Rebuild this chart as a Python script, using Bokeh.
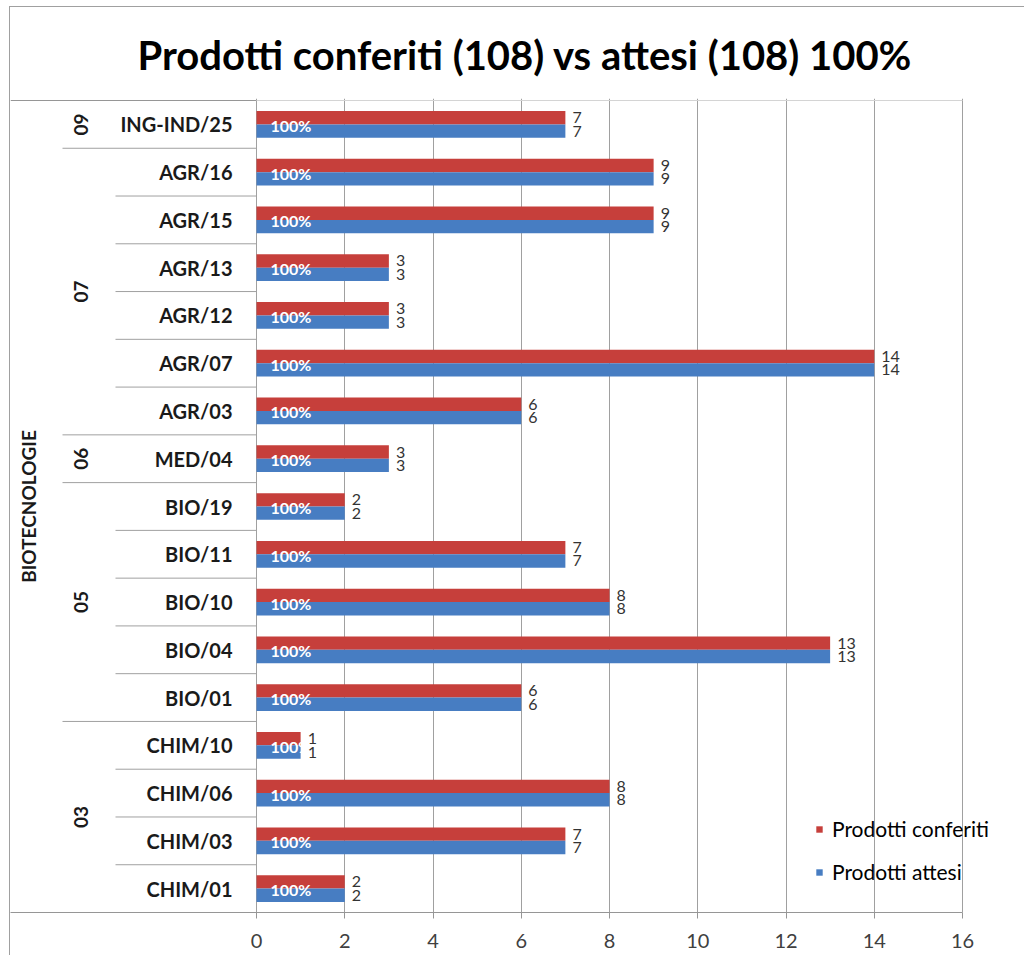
from bokeh.plotting import figure
from bokeh.models import ColumnDataSource, FixedTicker, Legend, LegendItem, Range1d
from bokeh.core.properties import value
from bokeh.embed import file_html
from bokeh.resources import INLINE
import math

# ---- data (bottom to top) ----
categories = ["CHIM/01", "CHIM/03", "CHIM/06", "CHIM/10", "BIO/01", "BIO/04", "BIO/10",
              "BIO/11", "BIO/19", "MED/04", "AGR/03", "AGR/07", "AGR/12", "AGR/13",
              "AGR/15", "AGR/16", "ING-IND/25"]
groups = ["03", "03", "03", "03", "05", "05", "05", "05", "05", "06",
          "07", "07", "07", "07", "07", "07", "09"]
area = "BIOTECNOLOGIE"
conferiti = [2, 7, 8, 1, 6, 13, 8, 7, 2, 3, 6, 14, 3, 3, 9, 9, 7]
attesi = [2, 7, 8, 1, 6, 13, 8, 7, 2, 3, 6, 14, 3, 3, 9, 9, 7]
x_ticks = [0, 2, 4, 6, 8, 10, 12, 14, 16]
series_names = ["Prodotti conferiti", "Prodotti attesi"]

RED = "#C63F3B"
BLUE = "#477DC2"
FONT = "Lato"
LINE = "#969696"

tot_c, tot_a = sum(conferiti), sum(attesi)
title_text = f"Prodotti conferiti ({tot_c}) vs attesi ({tot_a}) {round(100 * tot_c / tot_a)}%"

# ---- layout (page pixels) ----
OX, OY = 10, 7                      # position of the chart box on the page
W, H = 1024 - OX, 955 - OY
pl, pr, pt, pb = 10, 1024, 98, 912  # frame edges (page)
zero_px, sixteen_px, top_row_px = 256, 962, 100
n = len(categories)
ppu = (sixteen_px - zero_px) / 16.0
ppy = (pb - top_row_px) / float(n)
x_start = -(zero_px - pl) / ppu
x_end = 16 + (pr - sixteen_px) / ppu
y_end = n + (top_row_px - pt) / ppy

p = figure(width=W, height=H, x_range=Range1d(x_start, x_end), y_range=Range1d(0, y_end),
           output_backend="svg", toolbar_location=None,
           min_border_left=pl - OX, min_border_right=0,
           min_border_top=pt - OY, min_border_bottom=(OY + H) - pb)
p.styles = {"margin-left": f"{OX}px", "margin-top": f"{OY}px",
            "outline": "1px solid #a0a0a0"}

p.title.text = title_text
p.title.align = "left"
p.title.offset = 127
p.title.standoff = 40
p.title.text_font = FONT
p.title.text_font_size = "40px"
p.title.text_font_style = "bold"
p.title.text_color = "#000000"

p.outline_line_color = None
p.yaxis.visible = False
p.ygrid.visible = False
p.xaxis.ticker = FixedTicker(ticks=x_ticks)
p.xgrid.ticker = FixedTicker(ticks=x_ticks)
p.xgrid.grid_line_color = "#a0a0a0"
p.xaxis.bounds = (x_start, 16)
p.xaxis.axis_line_color = LINE
p.xaxis.major_tick_in = 0
p.xaxis.major_tick_out = 6
p.xaxis.major_tick_line_color = LINE
p.xaxis.minor_tick_line_color = None
p.xaxis.major_label_text_font = FONT
p.xaxis.major_label_text_font_size = "20px"
p.xaxis.major_label_text_color = "#404040"
p.xaxis.major_label_standoff = 15

yc = [i + 0.5 for i in range(n)]
h = 0.28
src = ColumnDataSource(dict(
    yc=yc,
    y_c=[y + h / 2 for y in yc],
    y_a=[y - h / 2 for y in yc],
    conf=conferiti,
    att=attesi,
    conf_s=[str(v) for v in conferiti],
    att_s=[str(v) for v in attesi],
    pct=[f"{round(100 * c / a)}%" for c, a in zip(conferiti, attesi)],
    cat=categories,
    zero=[0] * n,
))

# top border of the plot area
p.segment(x0=[x_start, 0], y0=[n, n], x1=[0, 16], y1=[n, n],
          line_color=[LINE, "#d4d4d4"], line_width=1)

r_conf = p.hbar(y="y_c", right="conf", left=0, height=h, source=src,
                fill_color=RED, line_color=None)
r_att = p.hbar(y="y_a", right="att", left=0, height=h, source=src,
               fill_color=BLUE, line_color=None)

# percentage labels inside bars
p.text(x="zero", y="yc", text="pct", source=src, x_offset=14, y_offset=1,
       text_font=value(FONT), text_font_size="16px", text_font_style="bold",
       text_color="white", text_align="left", text_baseline="middle")

# value labels
p.text(x="conf", y="y_c", text="conf_s", source=src, x_offset=7,
       text_font=value(FONT), text_font_size="16px", text_color="#333333",
       text_align="left", text_baseline="middle")
p.text(x="att", y="y_a", text="att_s", source=src, x_offset=7,
       text_font=value(FONT), text_font_size="16px", text_color="#333333",
       text_align="left", text_baseline="middle")

# category labels
p.text(x="zero", y="yc", text="cat", source=src, x_offset=-24,
       text_font=value(FONT), text_font_size="20px", text_font_style="bold",
       text_color="#1a1a1a", text_align="right", text_baseline="middle")

# group labels
g_names, g_members = [], []
for i, g in enumerate(groups):
    if not g_names or g_names[-1] != g:
        g_names.append(g)
        g_members.append([i])
    else:
        g_members[-1].append(i)
g_y = [(idx[0] + idx[-1] + 1) / 2.0 for idx in g_members]
p.text(x=[0] * len(g_names), y=g_y, text=g_names, x_offset=-(zero_px - 80), angle=math.pi / 2,
       text_font=value(FONT), text_font_size="19px", text_font_style="bold",
       text_color="#1a1a1a", text_align="center", text_baseline="middle")

# area label
p.text(x=[0], y=[n / 2.0], text=[area], x_offset=-(zero_px - 28), angle=math.pi / 2,
       text_font=value(FONT), text_font_size="19px", text_font_style="bold",
       text_color="#1a1a1a", text_align="center", text_baseline="middle")

# separators of the multi-level category axis
sx0, sy = [], []
for i in range(1, n):
    sy.append(float(i))
    start_px = 62 if groups[i] != groups[i - 1] else 115
    sx0.append(-(zero_px - start_px) / ppu)
p.segment(x0=sx0, y0=sy, x1=[0] * len(sy), y1=sy, line_color="#a0a0a0", line_width=1)

legend = Legend(items=[LegendItem(label=series_names[0], renderers=[r_conf]),
                       LegendItem(label=series_names[1], renderers=[r_att])],
                location=(805, 28), orientation="vertical",
                glyph_width=8, glyph_height=8, label_standoff=9, spacing=18,
                label_height=24,
                padding=0, margin=0, border_line_color=None,
                background_fill_alpha=0,
                label_text_font=FONT, label_text_font_size="21px",
                label_text_color="#000000")
p.add_layout(legend)

open("out.html", "w").write(file_html(p, INLINE))
